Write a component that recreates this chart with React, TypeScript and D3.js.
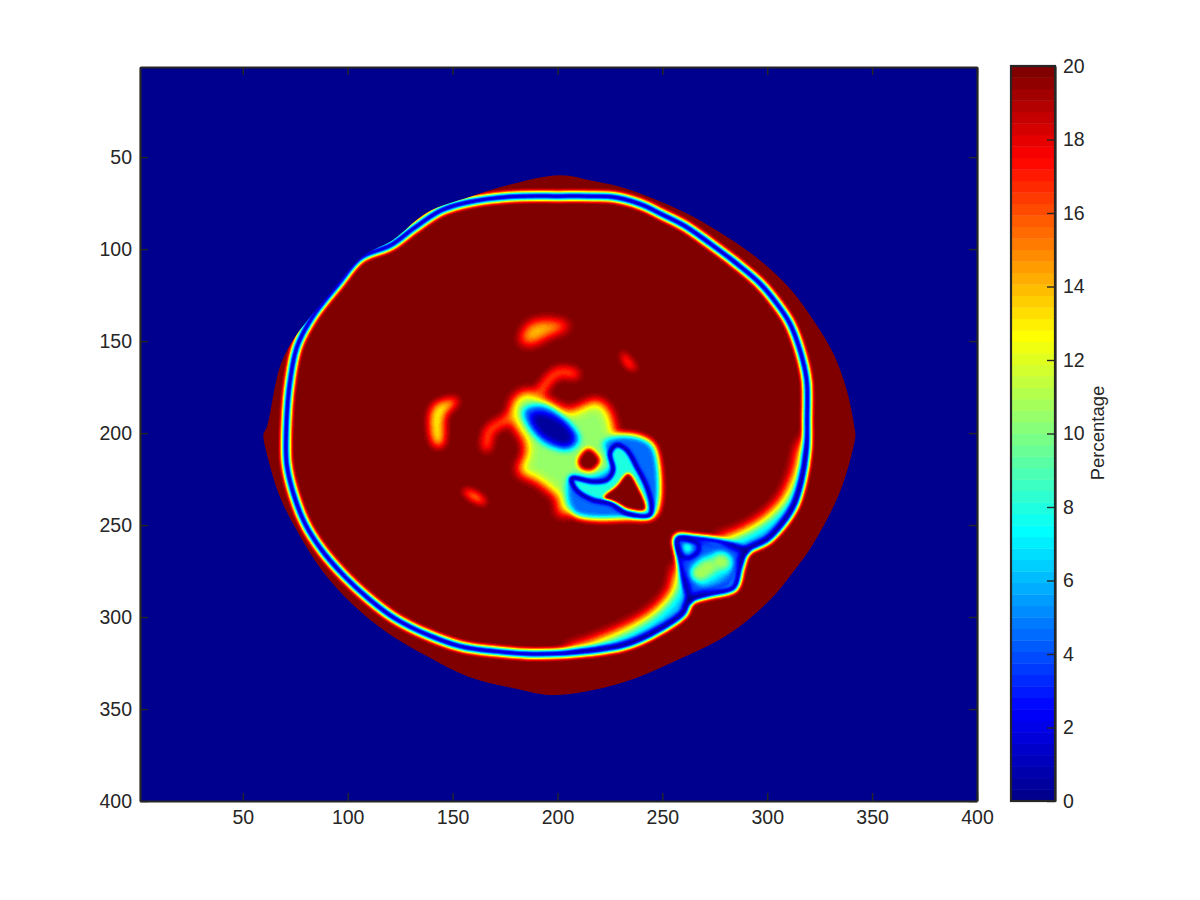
import { useEffect, useRef } from "react";
import * as d3 from "d3";

type Pt = [number, number];

// everything below is in image coordinates (column, row)
const xTicks = [50, 100, 150, 200, 250, 300, 350, 400];
const yTicks = [50, 100, 150, 200, 250, 300, 350, 400];
const barTicks = [0, 2, 4, 6, 8, 10, 12, 14, 16, 18, 20];

const jetStops = ["#00008f", "#0000ff", "#00ffff", "#ffff00", "#ff0000", "#800000"];
const jetAt = [0, 0.119, 0.365, 0.635, 0.881, 1];

// edge of the region with data
const lens: Pt[] = [
  [60, 200], [61.5, 196.7], [67.7, 164], [74, 149.4], [91.6, 124], [107, 104], [121.6, 95],
  [138, 80], [158, 71.7], [177, 65], [201.2, 59.8], [215.5, 62.5], [229.8, 66.1], [247.3, 73.3],
  [264.8, 82.4], [280.7, 93.3], [296.5, 106], [310.8, 121.4], [322, 138.6], [331.5, 156.7],
  [337.9, 176.6], [341.8, 198.4], [342, 202], [335, 231], [322, 260], [312, 276], [301, 291],
  [282, 309], [258, 323], [230, 336], [198.8, 342.4], [179.7, 338.8], [157.5, 332.4], [138.4, 321.6],
  [119.4, 308.9], [101.9, 292.6], [87.6, 274.4], [76.5, 254.5], [67.7, 234.6], [62.2, 214.6], [59.8, 202],
];

// low-value ring
const ring: Pt[] = [
  [201.2, 71.2], [215.5, 71.2], [228.2, 71.9], [240.9, 76.1], [248.9, 80.6], [260, 86.9], [272.7, 96.9],
  [285.4, 107.8], [296.5, 118.6], [304.5, 129.5], [310.8, 140.4], [315.6, 154.9], [318.8, 171.2],
  [319, 192.9], [318.8, 209.2], [316.5, 226], [313, 239], [307.5, 249], [300, 258], [290, 264],
  [287, 273], [284, 284], [274, 287], [263, 291], [260, 298], [250, 306], [239, 312.5], [230, 316],
  [215.5, 318.5], [203.6, 319.7], [187.7, 320.1], [171.8, 318.8], [154.3, 316.1], [138.4, 309.8],
  [122.5, 300.7], [109.8, 289.8], [98.7, 278.1], [87.6, 263.6], [79.6, 249.1], [74.1, 232.8],
  [70.9, 216.5], [70.9, 192.9], [72.5, 172], [75.8, 153.2], [83.5, 136.4], [95.9, 118.4],
  [105.9, 104.8], [120.7, 97.8], [131.7, 88.5], [145, 78.7], [157.8, 74.4], [177, 71.5],
];
const junctionEdge: Pt[] = [
  [290, 264], [277.5, 259], [264.6, 257], [257, 257], [258, 267], [260, 278], [262.5, 288], [263, 291],
];
const junctionBody: Pt[] = [
  [258, 258], [277.5, 260], [289, 265], [286, 273], [283, 283], [274, 286], [264, 289], [261, 278],
];
const junctionLoop: Pt[] = [[257.5, 258], [267, 260], [267, 264.5], [262, 268], [258.5, 266]];
const junctionInner: Pt[] = [[260, 260], [264, 261], [264, 264], [261, 265]];
const junctionGlow: Pt[] = [[265, 272], [272, 266], [280, 265], [284, 272], [278, 280], [268, 283]];
const junctionLobes: Pt[] = [[268, 276], [272, 273], [278, 270]];

// broad orange falloff on the inner side of the ring
const shadeUpper: Pt[] = [
  [277.5, 257], [281, 257], [289.5, 253], [299.5, 246], [308, 236], [314, 221], [318, 205],
  [325, 205], [322, 240], [310, 262], [295, 272], [280, 265],
];
const shadeLower: Pt[] = [
  [205, 319], [215, 315], [225, 310.5], [237, 304], [247.5, 296], [255.5, 285], [258, 273],
  [268, 280], [268, 300], [250, 315], [230, 325], [205, 325],
];

// central blob
const blob: Pt[] = [
  [179.5, 183.4], [185.5, 178.4], [194.9, 183.4], [205.2, 189.2], [212.1, 186.3], [218.9, 183.4],
  [224.1, 189.2], [228, 203], [238, 205], [242, 210], [242, 229], [240, 241],
  [235, 241], [222, 241], [210, 241], [201, 243], [201.8, 236.2], [196.6, 230.3],
  [189.7, 224.4], [182, 220.5], [185.5, 212.7], [185.5, 204.8], [179.5, 193.1],
];
const halo: Pt[] = [
  [183.7, 187.5], [193.2, 184.8], [205.9, 194.7], [210.7, 203.8], [205.9, 209.2], [194.8, 206.5], [186.1, 196.6],
];
const core: Pt[] = [
  [187.7, 190.2], [193.2, 189.3], [202.8, 194.7], [207.5, 202.9], [204.4, 206.5], [196.4, 203.8], [190, 197.5],
];
const blueBand: Pt[] = [
  [221.8, 205.6], [229.8, 201.1], [240.9, 202.8], [246.5, 208], [246.5, 244.5], [233, 246.5],
  [209.1, 245], [205.1, 238.2], [205.9, 223.7], [217.1, 223.7], [225, 218.3], [223.4, 211],
];
const loop: Pt[] = [
  [206.7, 224.6], [217.1, 226.5], [223.4, 225.5], [226.6, 220.1], [225, 211], [228.2, 206.5],
  [233, 209.2], [237.7, 218.3], [242.5, 229.2], [244.9, 240], [244.1, 244.6], [233, 243.7],
  [225, 238.2], [217.1, 236.4], [209.1, 231],
];
const triangleHole: Pt[] = [
  [222, 235], [228.2, 228.6], [233.7, 221.8], [238.4, 229.2], [242, 241.6], [234.5, 241.6], [228.2, 238],
];
const roundHole: Pt[] = [[209.7, 214.7], [214.7, 208.2], [220.4, 214.7], [216.8, 220.2], [211, 219.3]];

const tailTop: Pt[] = [[191.6, 178.4], [196.4, 170.3], [201.2, 166.7], [208.3, 167.9]];
const tailLeft: Pt[] = [[181.3, 189.3], [174.2, 193.8], [167.8, 198.4], [166.2, 207.4]];

const spotTop: Pt[] = [[182.7, 150.4], [186.4, 141.2], [194.8, 139], [205.4, 141.7], [195.8, 146.8], [187.4, 151.4]];
const spotRight: Pt[] = [[230.6, 155.8], [233.7, 159.4], [237.7, 165.8], [232.9, 163]];
const spotLower: Pt[] = [[155, 231], [161.4, 232.8], [166.2, 238.2], [159.9, 236.4]];
const spotLeft: Pt[] = [[139.2, 192.9], [141.6, 184.7], [152.6, 182], [146.4, 190.1], [145, 206.5], [141.6, 206.5]];

export default function App() {
  const ref = useRef<SVGSVGElement | null>(null);

  useEffect(() => {
    if (!ref.current) return;
    const svg = d3.select(ref.current);
    svg.selectAll("*").remove();

    const x = d3.scaleLinear().domain([1, 400]).range([140, 977]);
    const y = d3.scaleLinear().domain([1, 400]).range([67, 801]);
    const barY = d3.scaleLinear().domain([0, 20]).range([801, 66]);
    const gray = d3.scaleLinear<string>().domain([0, 20]).range(["#000000", "#ffffff"]);
    const jet = d3.scaleLinear<string>().domain(jetAt).range(jetStops);
    const colors = d3.range(64).map(i => d3.rgb(jet(i / 63)));

    const closed = d3.line<Pt>().x(d => x(d[0])).y(d => y(d[1])).curve(d3.curveCatmullRomClosed.alpha(0.5));
    const open = d3.line<Pt>().x(d => x(d[0])).y(d => y(d[1])).curve(d3.curveCatmullRom.alpha(0.5));

    const defs = svg.append("defs");
    const region = (f: any) =>
      f.attr("filterUnits", "userSpaceOnUse").attr("x", 100).attr("y", 30).attr("width", 920).attr("height", 810)
        .attr("color-interpolation-filters", "sRGB");

    [1.5, 2, 2.6, 3, 3.6, 4.5, 5.5, 7].forEach(s => {
      region(defs.append("filter").attr("id", `blur${String(s).replace(".", "_")}`))
        .append("feGaussianBlur").attr("stdDeviation", s);
    });

    // value field is painted in gray, then pushed through the 64 step colormap
    const jetFilter = region(defs.append("filter").attr("id", "jetmap"));
    const transfer = jetFilter.append("feComponentTransfer");
    (["R", "G", "B"] as const).forEach(ch => {
      const key = ch.toLowerCase() as "r" | "g" | "b";
      transfer.append(`feFunc${ch}`).attr("type", "discrete")
        .attr("tableValues", colors.map(c => (c[key] / 255).toFixed(4)).join(" "));
    });

    defs.append("clipPath").attr("id", "lensClip").append("path")
      .attr("shape-rendering", "crispEdges").attr("d", closed(lens));
    defs.append("clipPath").attr("id", "ringClip").append("path").attr("d", closed(ring));

    svg.append("rect").attr("x", x(1)).attr("y", y(1)).attr("width", x(400) - x(1)).attr("height", y(400) - y(1))
      .attr("fill", colors[0].formatHex());

    const field = svg.append("g").attr("clip-path", "url(#lensClip)")
      .append("g").attr("filter", "url(#jetmap)");
    field.append("rect").attr("x", 100).attr("y", 30).attr("width", 920).attr("height", 810).attr("fill", "#fff");

    const fill = (pts: Pt[], value: number, blur: number, parent: any = field) =>
      parent.append("path").attr("d", closed(pts)).attr("fill", gray(value))
        .attr("filter", `url(#blur${String(blur).replace(".", "_")})`);
    const line = (pts: Pt[], value: number, width: number, blur: number, isClosed = false) =>
      field.append("path").attr("d", isClosed ? closed(pts) : open(pts)).attr("fill", "none")
        .attr("stroke", gray(value)).attr("stroke-width", width).attr("stroke-linecap", "round")
        .attr("filter", `url(#blur${String(blur).replace(".", "_")})`);

    // inner falloff, kept on the inside of the ring
    const inside = field.append("g").attr("clip-path", "url(#ringClip)");
    fill(shadeUpper, 6, 7, inside);
    fill(shadeLower, 6, 7, inside);

    // faint spots and tails
    fill(spotTop, 13.5, 5.5);
    fill(spotRight, 14.5, 3.6);
    fill(spotLower, 14, 3.6);
    fill(spotLeft, 12.5, 4.5);
    line(tailTop, 15, 8, 4.5);
    line(tailLeft, 15, 8, 4.5);

    // blob
    fill(blob, 16, 7);
    fill(blob, 10.5, 5.5);
    fill(halo, 4, 3);
    fill(core, 0.3, 3);
    fill(blueBand, 4.5, 3);
    fill(loop, 8, 2);
    fill(triangleHole, 20, 1.5);
    fill(roundHole, 20, 2);
    line(loop, 0, 4, 1.5, true);

    // ring and junction
    fill(junctionBody, 4, 2);
    fill(junctionGlow, 7, 3);
    junctionLobes.forEach(p => {
      field.append("ellipse").attr("cx", x(p[0])).attr("cy", y(p[1])).attr("rx", 9).attr("ry", 8)
        .attr("fill", gray(11)).attr("filter", "url(#blur3)");
    });
    line(ring, 0, 7.5, 2, true);
    line(junctionEdge, 0, 6, 2);
    fill(junctionInner, 8, 2);
    line(junctionLoop, 0.5, 3, 1.5, true);

    // colorbar, one cell per colormap step
    const cells = d3.scaleBand<number>().domain(d3.range(64)).range([801, 66]);
    svg.append("g").selectAll("rect").data(d3.range(64)).join("rect")
      .attr("x", 1011).attr("width", 44)
      .attr("y", d => cells(d) as number).attr("height", cells.bandwidth() + 0.4)
      .attr("fill", d => colors[d].formatHex());

    const ink = "#262626";
    const style = (g: any) => {
      g.attr("font-family", "'Liberation Sans', Arial, sans-serif").attr("font-size", 19.5);
      g.selectAll("path").attr("stroke", ink).attr("stroke-width", 2.2).attr("fill", "none");
      g.selectAll("line").attr("stroke", ink).attr("stroke-width", 1.4);
      g.selectAll("text").attr("fill", ink);
    };
    const tick = 8;

    svg.append("g").attr("transform", "translate(0,801)")
      .call(d3.axisBottom(x).tickValues(xTicks).tickSizeInner(-tick).tickSizeOuter(0).tickPadding(9)).call(style);
    svg.append("g").attr("transform", "translate(140,0)")
      .call(d3.axisLeft(y).tickValues(yTicks).tickSizeInner(-tick).tickSizeOuter(0).tickPadding(8)).call(style);
    svg.append("g").attr("transform", "translate(0,67)")
      .call(d3.axisTop(x).tickValues(xTicks).tickSizeInner(-tick).tickSizeOuter(0).tickFormat(() => "")).call(style);
    svg.append("g").attr("transform", "translate(977,0)")
      .call(d3.axisRight(y).tickValues(yTicks).tickSizeInner(-tick).tickSizeOuter(0).tickFormat(() => "")).call(style);

    // colorbar frame and ticks
    svg.append("g").attr("transform", "translate(1055,0)")
      .call(d3.axisRight(barY).tickValues(barTicks).tickSizeInner(-tick).tickSizeOuter(0).tickPadding(8)).call(style);
    svg.append("rect").attr("x", 1011).attr("y", 66).attr("width", 44).attr("height", 735)
      .attr("fill", "none").attr("stroke", ink).attr("stroke-width", 2.2);

    svg.append("text")
      .attr("transform", "translate(1104,433) rotate(-90)")
      .attr("text-anchor", "middle")
      .attr("font-family", "'Liberation Sans', Arial, sans-serif")
      .attr("font-size", 18.5)
      .attr("fill", ink)
      .text("Percentage");
  }, []);

  return <svg ref={ref} width={1200} height={900} style={{ position: "absolute", left: 0, top: 0, background: "#fff" }} />;
}
